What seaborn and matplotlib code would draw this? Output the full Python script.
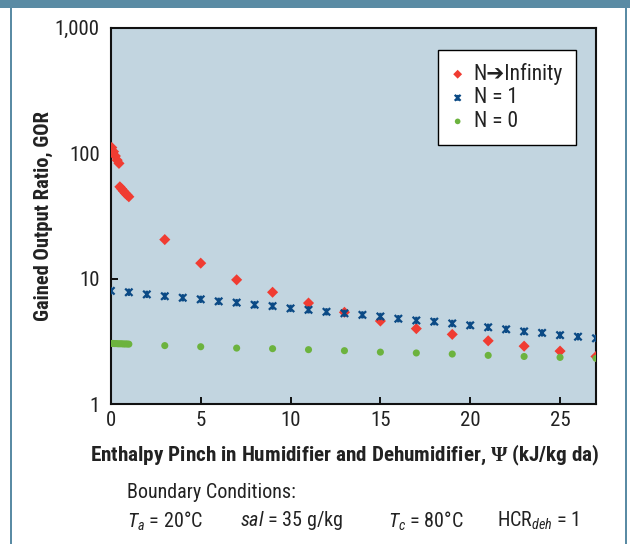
import matplotlib
matplotlib.use('Agg')
import matplotlib.pyplot as plt
import seaborn as sns
import pandas as pd
from matplotlib.path import Path
from matplotlib.markers import MarkerStyle
from matplotlib.patches import Rectangle

# Данные
inf_x = [0.05, 0.15, 0.25, 0.35, 0.45, 0.5, 0.6, 0.7, 0.8, 0.9, 1.0,
         3, 5, 7, 9, 11, 13, 15, 17, 19, 21, 23, 25, 27]
inf_gor = [111, 103, 95, 88, 83, 54, 52, 50, 48, 46.5, 45,
           20.5, 13.3, 9.8, 7.8, 6.4, 5.4, 4.6, 4.0, 3.6, 3.2, 2.9, 2.65, 2.4]

one_x = list(range(0, 28))
one_gor = [8.0, 7.8, 7.5, 7.25, 7.05, 6.85, 6.6, 6.45, 6.2, 6.05, 5.8, 5.65, 5.45, 5.3,
           5.15, 5.0, 4.8, 4.65, 4.55, 4.4, 4.25, 4.1, 3.95, 3.8, 3.7, 3.55, 3.45, 3.35]

zero_x = [0, 0.1, 0.2, 0.3, 0.4, 0.5, 0.6, 0.7, 0.8, 0.9, 1.0,
          3, 5, 7, 9, 11, 13, 15, 17, 19, 21, 23, 25, 27]
zero_gor = [3.05, 3.05, 3.04, 3.04, 3.03, 3.03, 3.03, 3.02, 3.02, 3.02, 3.01,
            2.93, 2.87, 2.80, 2.77, 2.72, 2.67, 2.60, 2.56, 2.51, 2.45, 2.40, 2.36, 2.32]

series_labels = ['N\u2794Infinity', 'N = 1', 'N = 0']
y_ticks = [1, 10, 100, 1000]
y_tick_labels = ['1', '10', '100', '1,000']
x_ticks = [0, 5, 10, 15, 20, 25]

FONT = ['Roboto Condensed', 'DejaVu Sans']
TXT = '#222222'

sns.set_style("ticks")
plt.rcParams['font.family'] = FONT
plt.rcParams['mathtext.fontset'] = 'custom'
plt.rcParams['mathtext.rm'] = 'Roboto Condensed'
plt.rcParams['mathtext.it'] = 'Roboto Condensed:italic'
plt.rcParams['mathtext.bf'] = 'Roboto Condensed:bold'
plt.rcParams['mathtext.sf'] = 'Liberation Serif:bold'

# Маркер "звезда" как в Excel: x + вертикальная черта
star = Path([(-1, -1), (1, 1), (-1, 1), (1, -1), (0, -1), (0, 1)],
            [Path.MOVETO, Path.LINETO, Path.MOVETO, Path.LINETO, Path.MOVETO, Path.LINETO])
star_marker = MarkerStyle(star, fillstyle='none')

fig = plt.figure(figsize=(6.3, 5.44), dpi=100)
ax = fig.add_axes([0.176, 0.257, 0.77, 0.692])
ax.set_facecolor('#c2d5e0')

df_inf = pd.DataFrame({'x': inf_x, 'gor': inf_gor})
df_one = pd.DataFrame({'x': one_x, 'gor': one_gor})
df_zero = pd.DataFrame({'x': zero_x, 'gor': zero_gor})

sns.scatterplot(data=df_inf, x='x', y='gor', ax=ax, marker='D', s=32,
                color='#f03c32', edgecolor='none', linewidth=0, label=series_labels[0], zorder=3)
sns.scatterplot(data=df_one, x='x', y='gor', ax=ax, marker=star_marker, s=28,
                color='#0b4a85', linewidth=1.6, label=series_labels[1], zorder=4)
sns.scatterplot(data=df_zero, x='x', y='gor', ax=ax, marker='o', s=26,
                color='#6cb33e', edgecolor='none', linewidth=0, label=series_labels[2], zorder=5)

ax.set_yscale('log')
ax.set_ylim(1, 1000)
ax.set_xlim(0, 27)
ax.set_yticks(y_ticks)
ax.set_yticklabels(y_tick_labels)
ax.minorticks_off()
ax.set_xticks(x_ticks)
ax.tick_params(axis='both', direction='in', length=5, width=1.3, color='black',
               labelsize=15, labelcolor=TXT)
ax.tick_params(axis='y', pad=8)
ax.tick_params(axis='x', pad=5)
for sp in ax.spines.values():
    sp.set_color('#111111')
    sp.set_linewidth(1.5)

ax.set_xlabel(r'Enthalpy Pinch in Humidifier and Dehumidifier, $\mathsf{\Psi}$ (kJ/kg da)',
              fontsize=15.2, fontweight='bold', color=TXT)
ax.set_ylabel('Gained Output Ratio, GOR', fontsize=14.8, fontweight='bold', color=TXT)
ax.xaxis.set_label_coords(0.482, -0.102)
ax.yaxis.set_label_coords(-0.12, 0.5)

leg = ax.legend(loc='upper right', bbox_to_anchor=(0.959, 0.941), borderaxespad=0,
                fontsize=15.5, frameon=True, fancybox=False, framealpha=1,
                edgecolor='black', handlelength=0.6, handletextpad=0.45,
                borderpad=0.6, labelspacing=0.12, markerscale=0.8)
leg.get_frame().set_linewidth(1.0)
for t in leg.get_texts():
    t.set_color(TXT)

# Рамка вокруг рисунка
frame_col = '#5a8ba4'
fig.add_artist(Rectangle((0, 1 - 8 / 544), 1, 8 / 544, transform=fig.transFigure,
                         facecolor=frame_col, edgecolor='none'))
fig.add_artist(Rectangle((10 / 630, 0), 2 / 630, 1, transform=fig.transFigure,
                         facecolor=frame_col, edgecolor='none'))
fig.add_artist(Rectangle((625 / 630, 0), 2 / 630, 1, transform=fig.transFigure,
                         facecolor=frame_col, edgecolor='none'))

# Граничные условия
fig.text(127 / 630, 1 - 493 / 544, 'Boundary Conditions:', fontsize=14.5,
         ha='left', va='center', color=TXT)
cond_y = 1 - 521 / 544
fig.text(127 / 630, cond_y, r'$T_{a}$ = 20°C', fontsize=14.5, ha='left', va='center', color=TXT)
fig.text(240 / 630, cond_y, r'$sal$ = 35 g/kg', fontsize=14.5, ha='left', va='center', color=TXT)
fig.text(388 / 630, cond_y, r'$T_{c}$ = 80°C', fontsize=14.5, ha='left', va='center', color=TXT)
fig.text(497 / 630, cond_y, r'HCR$_{deh}$ = 1', fontsize=14.5, ha='left', va='center', color=TXT)

fig.savefig('out.png', dpi=100)
plt.close(fig)
